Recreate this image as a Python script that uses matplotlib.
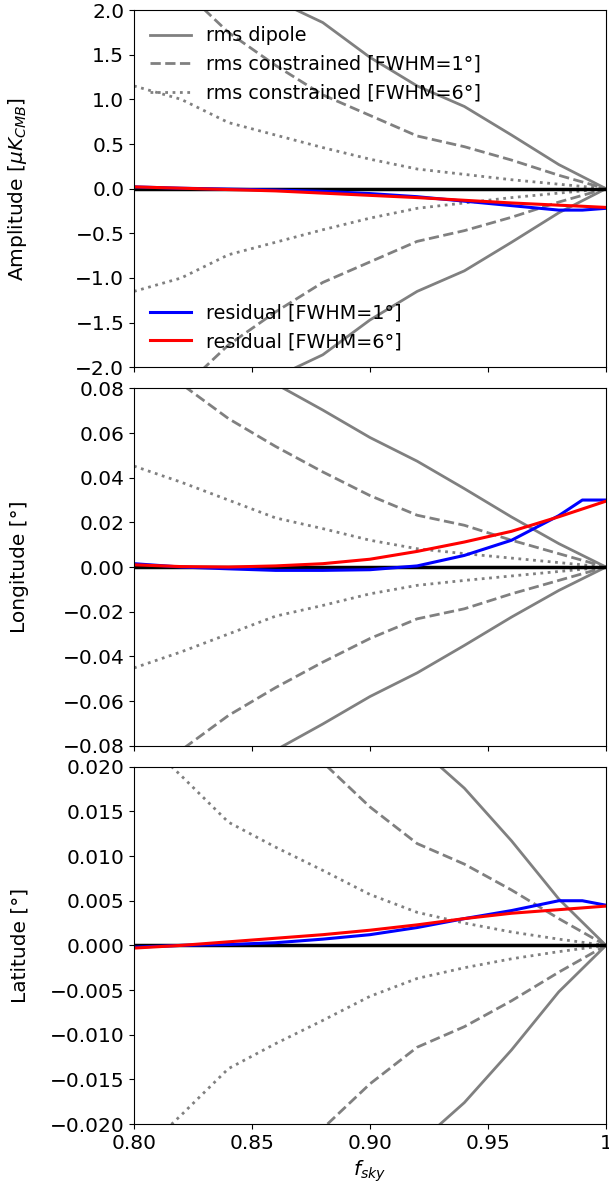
import numpy as np
import matplotlib
matplotlib.use('Agg')
import matplotlib.pyplot as plt

plt.rcParams['font.size'] = 14.5

# ---------------- sky fractions ----------------
fsky = [0.80, 0.82, 0.84, 0.86, 0.88, 0.90, 0.92, 0.94, 0.96, 0.98, 1.00]
fsky_res = [0.80, 0.82, 0.84, 0.86, 0.88, 0.90, 0.92, 0.94, 0.96, 0.98, 0.99, 1.00]

# ---------------- amplitude [muK_CMB] ----------------
amp_rms_dipole = [3.0, 2.7, 2.4, 2.11, 1.86, 1.47, 1.15, 0.92, 0.60, 0.27, 0.0]
amp_rms_fwhm1 = [2.9, 2.25, 1.75, 1.38, 1.05, 0.82, 0.59, 0.47, 0.32, 0.15, 0.0]
amp_rms_fwhm6 = [1.15, 1.0, 0.74, 0.60, 0.46, 0.33, 0.22, 0.16, 0.10, 0.05, 0.0]
amp_res_fwhm1 = [0.02, 0.005, -0.005, -0.015, -0.03, -0.055, -0.09, -0.14, -0.19, -0.24, -0.24, -0.22]
amp_res_fwhm6 = [0.02, 0.005, -0.01, -0.025, -0.05, -0.075, -0.10, -0.13, -0.16, -0.185, -0.197, -0.21]

# ---------------- longitude [deg] ----------------
lon_rms_dipole = [0.105, 0.097, 0.090, 0.082, 0.0703, 0.058, 0.0474, 0.0351, 0.0224, 0.0105, 0.0]
lon_rms_fwhm1 = [0.105, 0.082, 0.0665, 0.054, 0.0426, 0.032, 0.0232, 0.0187, 0.012, 0.006, 0.0]
lon_rms_fwhm6 = [0.0452, 0.038, 0.030, 0.022, 0.0172, 0.012, 0.0082, 0.006, 0.004, 0.002, 0.0]
lon_res_fwhm1 = [0.0015, 0.0, -0.0008, -0.0015, -0.0015, -0.0012, 0.0005, 0.0052, 0.012, 0.023, 0.030, 0.030]
lon_res_fwhm6 = [0.001, 0.0002, 0.0, 0.0005, 0.0015, 0.0035, 0.007, 0.0112, 0.016, 0.0225, 0.026, 0.0295]

# ---------------- latitude [deg] ----------------
lat_rms_dipole = [0.040, 0.036, 0.032, 0.029, 0.026, 0.024, 0.0223, 0.0176, 0.0117, 0.0052, 0.0]
lat_rms_fwhm1 = [0.035, 0.030, 0.027, 0.024, 0.0205, 0.0155, 0.0114, 0.0091, 0.0062, 0.003, 0.0]
lat_rms_fwhm6 = [0.024, 0.019, 0.0138, 0.011, 0.0084, 0.0057, 0.0037, 0.0025, 0.0015, 0.0007, 0.0]
lat_res_fwhm1 = [-0.0002, 0.0, 0.0001, 0.0003, 0.0007, 0.0012, 0.002, 0.003, 0.0039, 0.005, 0.005, 0.0045]
lat_res_fwhm6 = [-0.0003, 0.0, 0.0004, 0.0008, 0.0012, 0.0017, 0.0023, 0.003, 0.0036, 0.004, 0.0042, 0.0044]

xtick_vals = [0.80, 0.85, 0.90, 0.95, 1.00]
xtick_labels = ['0.80', '0.85', '0.90', '0.95', '1']

panels = [
    (amp_rms_dipole, amp_rms_fwhm1, amp_rms_fwhm6, amp_res_fwhm1, amp_res_fwhm6,
     r'Amplitude [$\mu K_{CMB}$]', (-2.0, 2.0), np.arange(-2.0, 2.01, 0.5), '{:.1f}'),
    (lon_rms_dipole, lon_rms_fwhm1, lon_rms_fwhm6, lon_res_fwhm1, lon_res_fwhm6,
     'Longitude [°]', (-0.08, 0.08), np.arange(-0.08, 0.081, 0.02), '{:.2f}'),
    (lat_rms_dipole, lat_rms_fwhm1, lat_rms_fwhm6, lat_res_fwhm1, lat_res_fwhm6,
     'Latitude [°]', (-0.02, 0.02), np.arange(-0.02, 0.0201, 0.005), '{:.3f}'),
]


def tick_text(v, fmt):
    if abs(v) < 1e-12:
        v = 0.0
    return fmt.format(v).replace('-', '\u2212')


fig, axes = plt.subplots(3, 1, figsize=(6.09, 11.93), dpi=100, sharex=True)
fig.subplots_adjust(left=0.22, right=0.995, top=0.9916, bottom=0.0578, hspace=0.059)

x = np.array(fsky)
for ax, (dip, c1, c6, r1, r6, ylab, ylim, yt, fmt) in zip(axes, panels):
    dip, c1, c6 = np.array(dip), np.array(c1), np.array(c6)
    h_dip, = ax.plot(x, dip, color='gray', lw=2, ls='-', label='rms dipole')
    ax.plot(x, -dip, color='gray', lw=2, ls='-')
    h_c1, = ax.plot(x, c1, color='gray', lw=2, ls='--', label='rms constrained [FWHM=1°]')
    ax.plot(x, -c1, color='gray', lw=2, ls='--')
    h_c6, = ax.plot(x, c6, color='gray', lw=2, ls=':', label='rms constrained [FWHM=6°]')
    ax.plot(x, -c6, color='gray', lw=2, ls=':')
    ax.axhline(0, color='k', lw=2.5)
    h_r1, = ax.plot(fsky_res, r1, color='blue', lw=2.2, label='residual [FWHM=1°]')
    h_r6, = ax.plot(fsky_res, r6, color='red', lw=2.2, label='residual [FWHM=6°]')

    ax.set_ylim(*ylim)
    ax.set_yticks(yt)
    ax.set_yticklabels([tick_text(v, fmt) for v in yt])
    ax.set_ylabel(ylab)
    ax.yaxis.set_label_coords(-0.222, 0.5)
    ax.set_xlim(0.80, 1.00)

    if ax is axes[0]:
        leg1 = ax.legend(handles=[h_dip, h_c1, h_c6], loc='upper left',
                         frameon=False, fontsize=13.8, borderaxespad=0.45,
                         handlelength=2.1)
        ax.add_artist(leg1)
        ax.legend(handles=[h_r1, h_r6], loc='lower left', frameon=False,
                  fontsize=13.8, borderaxespad=0.45, handlelength=2.1)

axes[-1].set_xticks(xtick_vals)
axes[-1].set_xticklabels(xtick_labels)
axes[-1].set_xlabel(r'$f_{sky}$')

fig.savefig('out.png', dpi=100)
